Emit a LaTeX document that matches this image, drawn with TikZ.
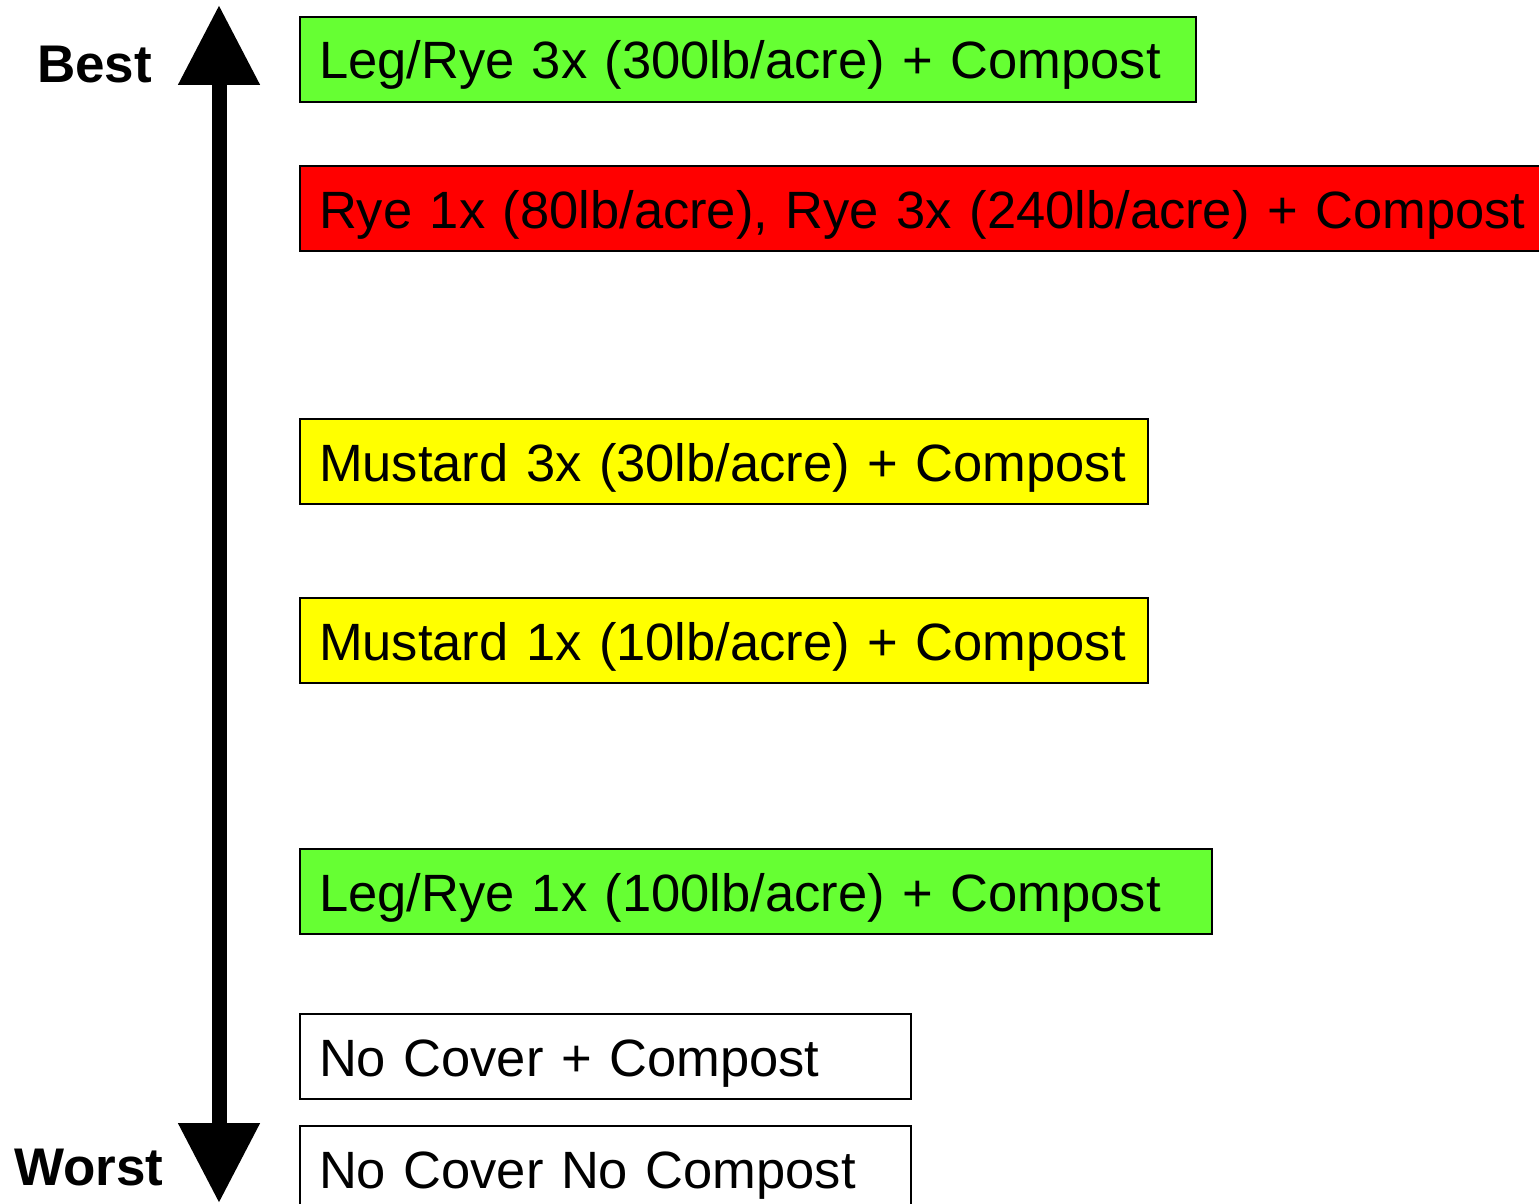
\documentclass[tikz,border=0pt]{standalone}
\usepackage{fontspec}
\setmainfont{Liberation Sans}
\usetikzlibrary{arrows.meta}
\definecolor{lgreen}{HTML}{66FF33}
\definecolor{lred}{HTML}{FF0000}
\definecolor{lyellow}{HTML}{FFFF00}
\tikzset{bigtip/.tip={Triangle[width=78pt,length=80pt]}}
\begin{document}
\begin{tikzpicture}[x=1pt,y=1pt,
  box/.style={draw=black, line width=2pt, anchor=north west, inner xsep=19pt, inner ysep=0pt,
    minimum height=85pt, align=left, text height=48pt, text depth=9pt,
    font=\fontsize{52.5}{60}\selectfont},
  rank/.style={anchor=base west, inner sep=0pt, font=\fontsize{53}{60}\selectfont\bfseries}]
\useasboundingbox (0,0) rectangle (1539,-1204);
\clip (0,0) rectangle (1539,-1204);
\fill[white] (0,0) rectangle (1539,-1204);
\node[box, fill=lgreen, text width=858pt] (b1) at (299,-16) {\mbox{Leg/Rye 3x (300lb/acre) + Compost}};
\node[box, fill=lred, text width=1222pt] (b2) at (299,-165) {\mbox{Rye 1x (80lb/acre), Rye 3x (240lb/acre) + Compost}};
\node[box, fill=lyellow, text width=810pt] (b3) at (299,-418) {\mbox{Mustard 3x (30lb/acre) + Compost}};
\node[box, fill=lyellow, text width=810pt] (b4) at (299,-597) {\mbox{Mustard 1x (10lb/acre) + Compost}};
\node[box, fill=lgreen, text width=874pt] (b5) at (299,-848) {\mbox{Leg/Rye 1x (100lb/acre) + Compost}};
\node[box, fill=white, text width=573pt] (b6) at (299,-1013) {\mbox{No Cover + Compost}};
\node[box, fill=white, text width=573pt] (b7) at (299,-1125) {\mbox{No Cover No Compost}};
\node[rank] (best) at (37,-83) {Best};
\node[rank] (worst) at (14,-1185) {Worst};
\coordinate (top) at (219,-5);
\coordinate (bot) at (219,-1203);
\draw[line width=15pt, {bigtip}-{bigtip}] (top) -- (bot);
\end{tikzpicture}
\end{document}
